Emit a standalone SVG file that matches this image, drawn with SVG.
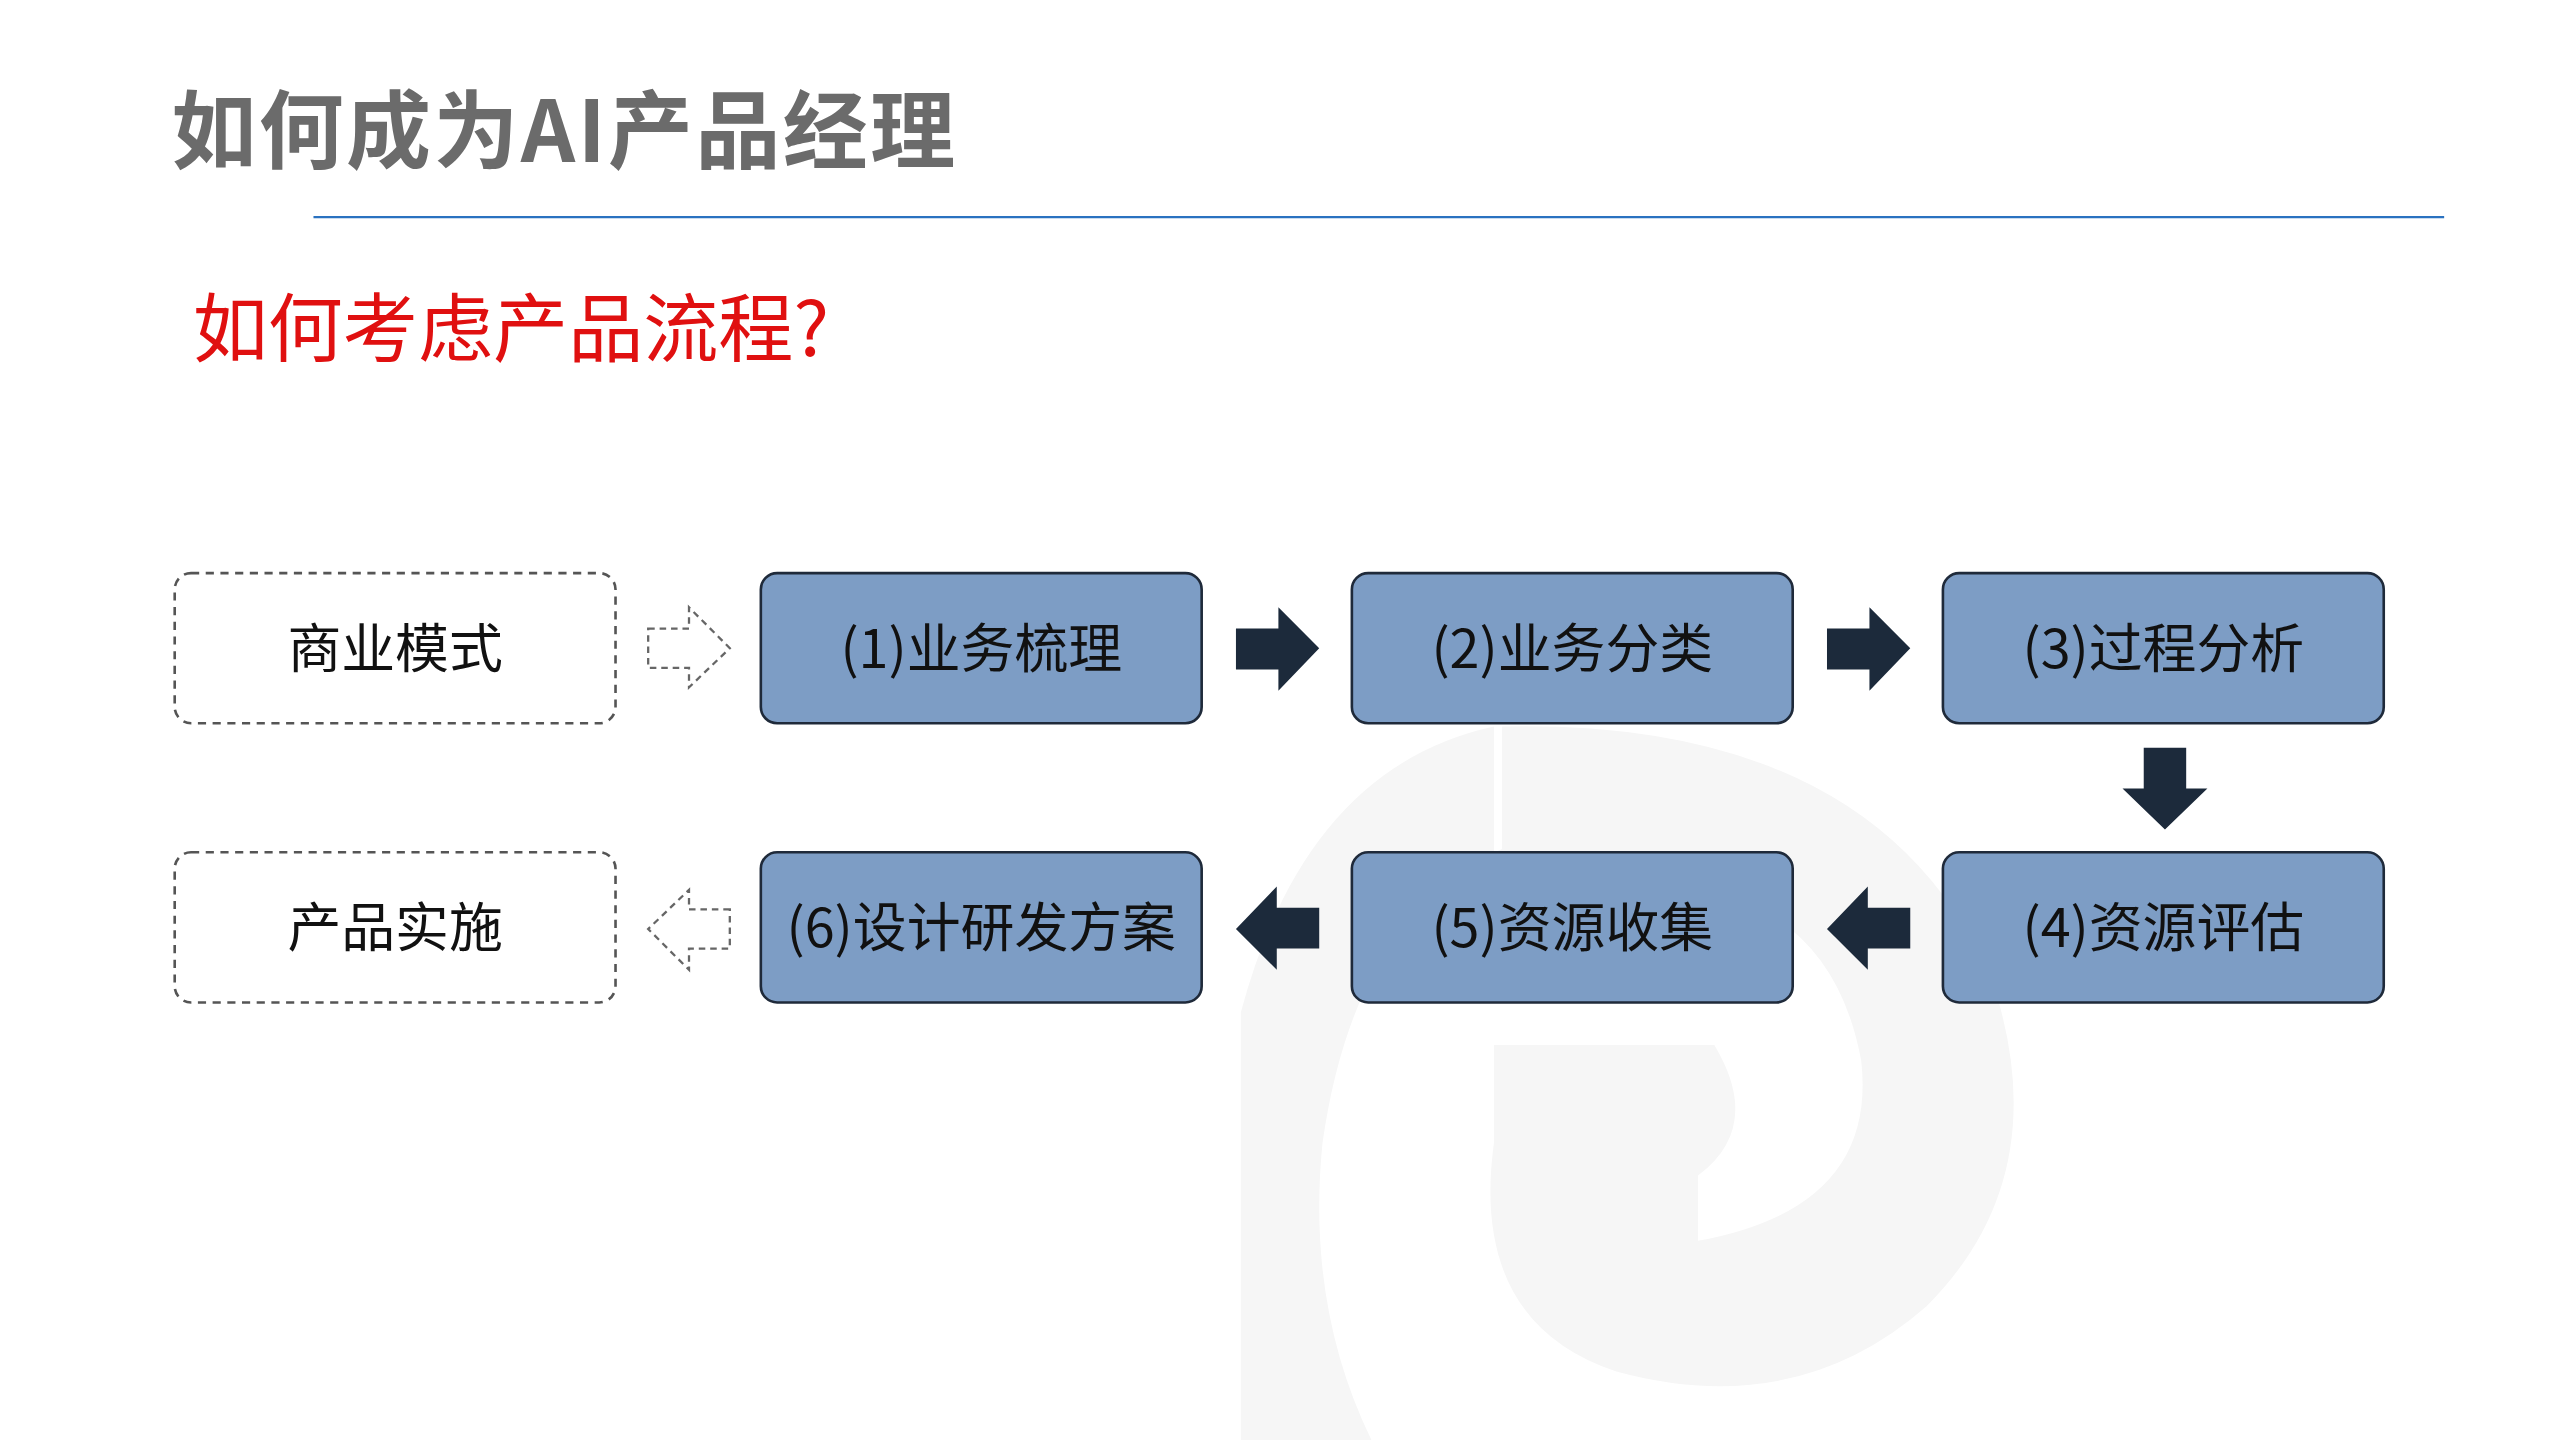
<svg xmlns="http://www.w3.org/2000/svg" width="2560" height="1440" viewBox="0 0 2560 1440">
<style>
.t{font-family:"Noto Sans CJK SC","Noto Sans",sans-serif}
.dash{fill:#fff;stroke:#555;stroke-width:1.6;stroke-dasharray:5 4}
.box{fill:#7d9dc5;stroke:#1f2a3a;stroke-width:1.6}
.lbl{font-family:"Noto Sans CJK SC","Noto Sans",sans-serif;font-size:33px;fill:#111;text-anchor:middle}
.arr{fill:#1c2a3b}
.harr{fill:#fff;stroke:#666;stroke-width:1.4;stroke-dasharray:4 3}
</style>
<rect width="2560" height="1440" fill="#fff"/>
<g transform="scale(1.6327)">
<g id="watermark" fill="#f6f6f6">
<path d="M760 620 L760 882 L840 882 Q800 800 810 700 Q830 560 920 520 L920 445 Q1150 440 1220 600 Q1260 720 1180 800 Q1100 870 990 840 Q900 810 915 700 L915 640 L1050 640 Q1080 690 1040 720 L1040 760 Q1150 740 1140 650 Q1120 540 1000 540 L915 540 L915 445 Q800 470 760 620 Z"/>
</g>
<g id="title"><text class="t" x="105" y="99" font-size="52" font-weight="bold" fill="#6b6b6b" letter-spacing="1.5">如何成为AI产品经理</text></g>
<line x1="192" y1="133" x2="1497" y2="133" stroke="#2a72c0" stroke-width="1.5"/>
<g id="subtitle"><text class="t" x="118" y="218" font-size="46" fill="#e01010">如何考虑产品流程?</text></g>
<g id="n0"><rect class="dash" x="107" y="351" width="270" height="92" rx="10"/><text class="lbl" x="242" y="409">商业模式</text></g>
<g id="n7"><rect class="dash" x="107" y="522" width="270" height="92" rx="10"/><text class="lbl" x="242" y="580">产品实施</text></g>
<g id="n1"><rect class="box" x="466" y="351" width="270" height="92" rx="10"/><text class="lbl" x="601" y="409">(1)业务梳理</text></g>
<g id="n2"><rect class="box" x="828" y="351" width="270" height="92" rx="10"/><text class="lbl" x="963" y="409">(2)业务分类</text></g>
<g id="n3"><rect class="box" x="1190" y="351" width="270" height="92" rx="10"/><text class="lbl" x="1325" y="409">(3)过程分析</text></g>
<g id="n4"><rect class="box" x="1190" y="522" width="270" height="92" rx="10"/><text class="lbl" x="1325" y="580">(4)资源评估</text></g>
<g id="n5"><rect class="box" x="828" y="522" width="270" height="92" rx="10"/><text class="lbl" x="963" y="580">(5)资源收集</text></g>
<g id="n6"><rect class="box" x="466" y="522" width="270" height="92" rx="10"/><text class="lbl" x="601" y="580">(6)设计研发方案</text></g>
<g id="connectors">
<path class="harr" d="M397 385 H422 V372 L447 397 L422 421 V409 H397 Z"/>
<path class="arr" d="M757 385 H783 V372 L808 397 L783 423 V410 H757 Z"/>
<path class="arr" d="M1119 385 H1145 V372 L1170 397 L1145 423 V410 H1119 Z"/>
<path class="arr" d="M1313 458 H1339 V483 H1352 L1326 508 L1300 483 H1313 Z"/>
<path class="arr" d="M1170 556 H1144 V543 L1119 569 L1144 594 V581 H1170 Z"/>
<path class="arr" d="M808 556 H782 V543 L757 569 L782 594 V581 H808 Z"/>
<path class="harr" d="M447 557 H422 V545 L397 569 L422 594 V581 H447 Z"/>
</g>
</g>
</svg>
